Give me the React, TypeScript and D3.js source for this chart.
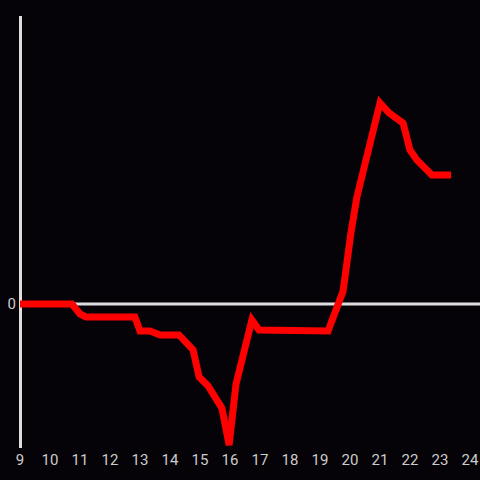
import React from "react";
import * as d3 from "d3";

const hours = [9, 10.73, 11.0, 11.2, 12.83, 13.0, 13.33, 13.67, 14.3, 14.77, 14.97, 15.27, 15.73, 15.97, 16.2, 16.73, 16.97, 19.27, 19.77, 20.03, 20.23, 21.0, 21.3, 21.77, 22.0, 22.23, 22.73, 23.37];
const values = [0, 0, -0.83, -1.08, -1.08, -2.25, -2.25, -2.58, -2.58, -3.83, -6.08, -6.83, -8.67, -11.75, -6.67, -1.33, -2.17, -2.25, 1.08, 5.92, 8.92, 16.75, 15.92, 15.08, 12.83, 12.0, 10.75, 10.75];
const xTicks = [9, 10, 11, 12, 13, 14, 15, 16, 17, 18, 19, 20, 21, 22, 23, 24];
const yTicks = [0];

export default function App() {
  const W = 480, H = 480;
  const x = d3.scaleLinear().domain([9, 24]).range([20, 470]);
  const y = d3.scaleLinear().domain([-12, 24]).range([448, 16]);
  const data = hours.map((h, i) => [h, values[i]] as [number, number]);
  const line = d3.line<[number, number]>().x(d => x(d[0])).y(d => y(d[1]));
  return (
    <svg width={W} height={H} style={{ position: "fixed", left: 0, top: 0, background: "#050307" }}>
      <rect x={0} y={0} width={W} height={H} fill="#050307" />
      <line x1={20.5} x2={20.5} y1={16} y2={448} stroke="#dddddd" strokeWidth={3} />
      <line x1={20} x2={480} y1={y(0)} y2={y(0)} stroke="#dddddd" strokeWidth={3} />
      <path d={line(data) || ""} fill="none" stroke="#ff0000" strokeWidth={7} strokeLinejoin="miter" />
      {xTicks.map(t => (
        <text key={t} x={x(t)} y={460} textAnchor="middle" dominantBaseline="central" fill="#cccccc" fontSize={15} fontFamily="Roboto, sans-serif">{t}</text>
      ))}
      {yTicks.map(t => (
        <text key={t} x={16} y={y(t)} textAnchor="end" dominantBaseline="central" fill="#cccccc" fontSize={15} fontFamily="Roboto, sans-serif">{t}</text>
      ))}
    </svg>
  );
}
